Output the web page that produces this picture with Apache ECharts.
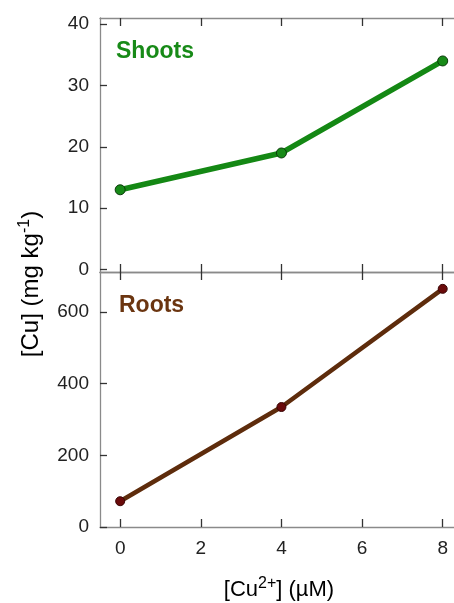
<!DOCTYPE html>
<html><head><meta charset="utf-8">
<script src="https://cdn.jsdelivr.net/npm/echarts@6/dist/echarts.min.js"></script>
<style>html,body{margin:0;padding:0;background:#fff}#c{width:454px;height:603px}</style>
</head><body><div id="c"></div>
<script>
const xValues = [0, 4, 8];
const shoots = [13, 19, 34];
const roots = [72, 335, 665];
const xTicks = [0, 2, 4, 6, 8];
const shootTicks = [0, 10, 20, 30, 40];
const rootTicks = [0, 200, 400, 600];

const FONT = 'Liberation Sans, Arial, sans-serif';
const axisLineC = '#8a8a8a';
const tickC = '#333';

function xAx(grid, pos, showLabel) {
  return {
    type: 'value', gridIndex: grid, position: pos, min: -0.5, max: 8.28,
    axisLine: {show: true, onZero: false, lineStyle: {color: axisLineC, width: 1.3}},
    axisTick: {show: true, inside: true, length: 8, customValues: xTicks, lineStyle: {color: tickC, width: 1.3}},
    axisLabel: {show: showLabel, customValues: xTicks, fontSize: 19, color: '#222', fontFamily: FONT, margin: 12},
    splitLine: {show: false}
  };
}
function yAx(grid, min, max, ticks) {
  return {
    type: 'value', gridIndex: grid, min: min, max: max, position: 'left',
    axisLine: {show: true, onZero: false, lineStyle: {color: axisLineC, width: 1.3}},
    axisTick: {show: true, inside: true, length: 7, customValues: ticks, lineStyle: {color: tickC, width: 1.3}},
    axisLabel: {show: true, customValues: ticks, fontSize: 19, color: '#222', fontFamily: FONT, margin: 11},
    splitLine: {show: false}
  };
}

const chart = echarts.init(document.getElementById('c'), null, {renderer: 'canvas'});
chart.setOption({
  animation: false,
  backgroundColor: '#fff',
  grid: [
    {left: 100, right: 0, top: 18, height: 254},
    {left: 100, right: 0, top: 272, height: 255}
  ],
  xAxis: [xAx(0, 'bottom', false), xAx(0, 'top', false), xAx(1, 'bottom', true), xAx(1, 'top', false)],
  yAxis: [yAx(0, -0.4, 41, shootTicks), yAx(1, 0, 712, rootTicks)],
  series: [
    {type: 'line', xAxisIndex: 0, yAxisIndex: 0, data: xValues.map((x, i) => [x, shoots[i]]),
     lineStyle: {color: '#148814', width: 5.5}, symbol: 'circle', symbolSize: 10,
     itemStyle: {color: '#178a17', borderColor: '#0a3a0a', borderWidth: 1}},
    {type: 'line', xAxisIndex: 2, yAxisIndex: 1, data: xValues.map((x, i) => [x, roots[i]]),
     lineStyle: {color: '#5e2c0c', width: 4.5}, symbol: 'circle', symbolSize: 9,
     itemStyle: {color: '#6a0a0a', borderColor: '#3a0505', borderWidth: 1}}
  ],
  graphic: [
    {type: 'text', left: 116, top: 40, style: {text: 'Shoots', font: 'bold 23px ' + FONT, fill: '#178a17'}},
    {type: 'text', left: 119, top: 294, style: {text: 'Roots', font: 'bold 23px ' + FONT, fill: '#6b3510'}},
    {type: 'text', x: 31, y: 284, rotation: Math.PI / 2,
     style: {text: '{a|[Cu] (mg kg}{s|-1}{a|)}', align: 'center', verticalAlign: 'middle',
       rich: {a: {fontSize: 24, fontFamily: FONT, color: '#222'},
              s: {fontSize: 16, fontFamily: FONT, color: '#222', verticalAlign: 'top', padding: [0, 0, 12, 0]}}}},
    {type: 'text', x: 279, y: 590,
     style: {text: '{a|[Cu}{s|2+}{a|] (µM)}', align: 'center', verticalAlign: 'middle',
       rich: {a: {fontSize: 22, fontFamily: FONT, color: '#222'},
              s: {fontSize: 16, fontFamily: FONT, color: '#222', verticalAlign: 'top', padding: [0, 0, 12, 0]}}}}
  ]
});
</script></body></html>
